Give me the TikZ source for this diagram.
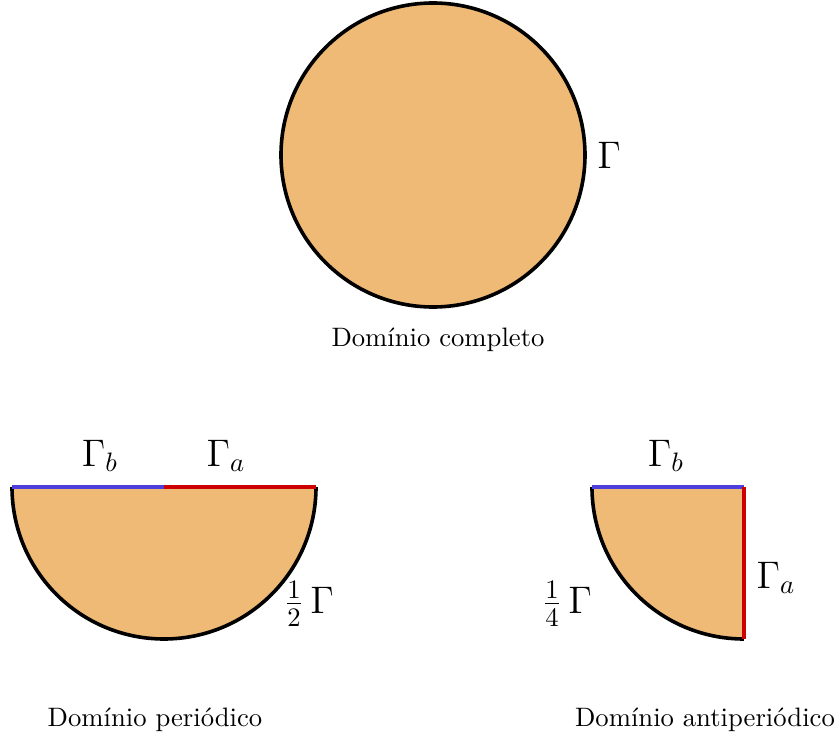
\documentclass[tikz,border=0pt]{standalone}
\usepackage{fontspec}
\definecolor{domfill}{RGB}{239,185,118}
\definecolor{gblue}{RGB}{78,62,220}
\definecolor{gred}{RGB}{204,0,0}
\begin{document}
\begin{tikzpicture}[x=0.375pt,y=0.375pt,
  outline/.style={line width=1.35pt,black},
  bluebd/.style={line width=1.35pt,gblue},
  redbd/.style={line width=1.35pt,gred},
  glabel/.style={font=\Large,inner sep=0pt},
  caption/.style={inner sep=0pt}]
\useasboundingbox (0,0) rectangle (835,-742);
% full domain
\fill[domfill] (433,-155) circle[radius=57pt];
\draw[outline] (433,-155) circle[radius=57pt];
\node[glabel] (g) at (609,-155) {$\Gamma$};
\node[caption] (c1) at (438,-340) {Domínio completo};
% periodic domain
\fill[domfill] (12,-487) arc[start angle=180,end angle=360,radius=57pt] -- cycle;
\draw[outline] (12,-487) arc[start angle=180,end angle=360,radius=57pt];
\coordinate (pl) at (12,-487);
\coordinate (pm) at (164,-487);
\coordinate (pr) at (316,-487);
\draw[bluebd] (pl) -- (pm);
\draw[redbd] (pm) -- (pr);
\node[glabel] (gb1) at (100,-456) {$\Gamma_b$};
\node[glabel] (ga1) at (226,-456) {$\Gamma_a$};
\node[glabel] (h) at (309,-604) {$\frac{1}{2}\,\Gamma$};
\node[caption] (c2) at (155,-720) {Domínio periódico};
% antiperiodic domain
\fill[domfill] (592,-487) arc[start angle=180,end angle=270,radius=57pt] -- (744,-487) -- cycle;
\draw[outline] (592,-487) arc[start angle=180,end angle=270,radius=57pt];
\coordinate (ql) at (592,-487);
\coordinate (qc) at (744,-487);
\coordinate (qb) at (744,-639);
\draw[bluebd] (ql) -- (qc);
\draw[redbd] (qc) -- (qb);
\node[glabel] (gb2) at (666,-456) {$\Gamma_b$};
\node[glabel] (ga2) at (776,-578) {$\Gamma_a$};
\node[glabel] (q) at (567,-604) {$\frac{1}{4}\,\Gamma$};
\node[caption] (c3) at (705,-720) {Domínio antiperiódico};
\end{tikzpicture}
\end{document}
